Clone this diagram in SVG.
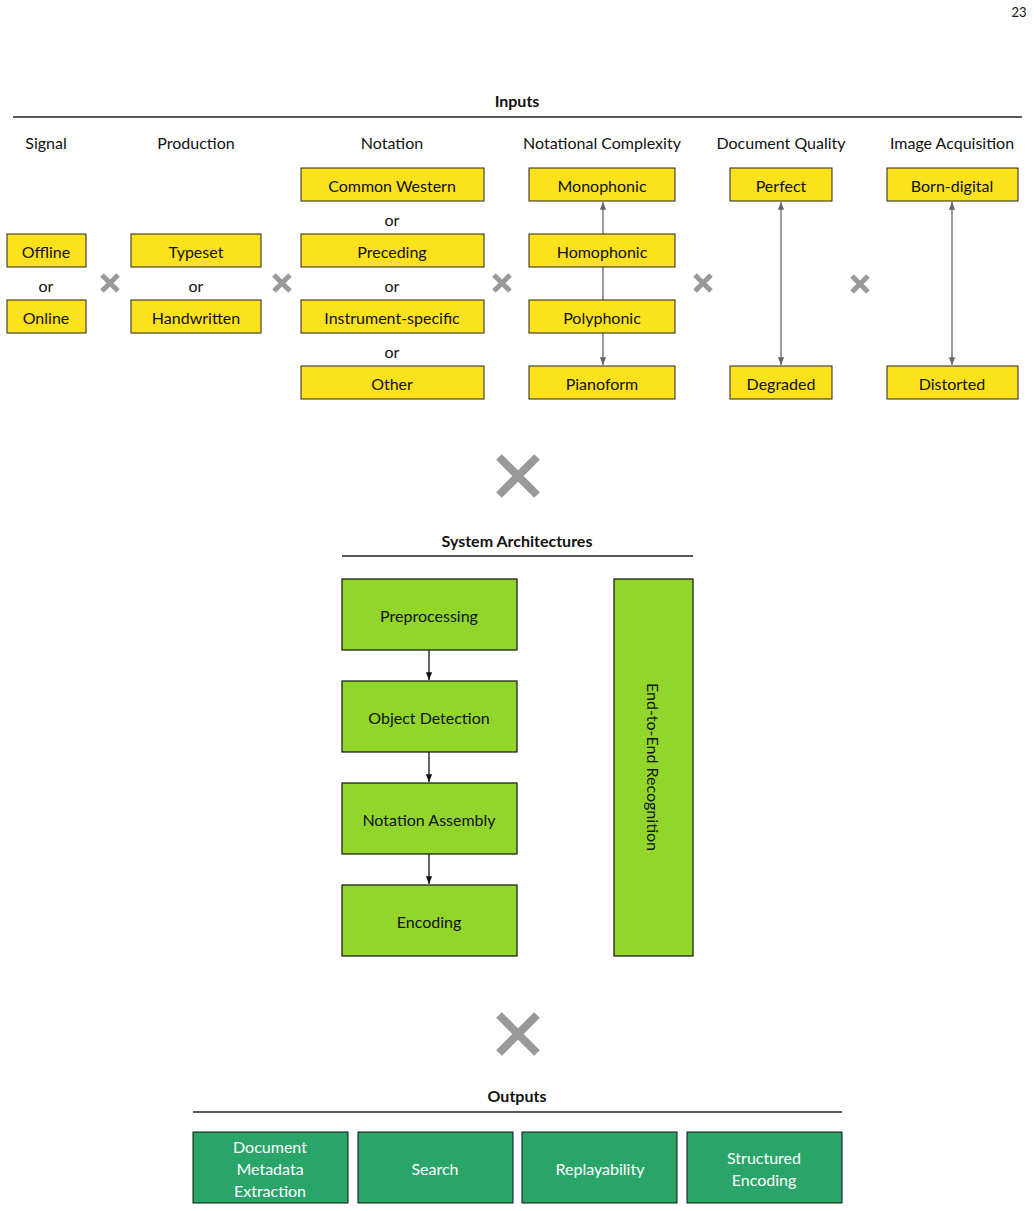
<svg xmlns="http://www.w3.org/2000/svg" width="1034" height="1211" viewBox="0 0 1034 1211">
<defs>
<style>
text{font-family:Lato,"Open Sans",sans-serif;font-size:16px;fill:#111;text-anchor:middle;dominant-baseline:central}
.y{fill:#FCE21D;stroke:#222;stroke-width:1}
.g{fill:#92D62C;stroke:#111;stroke-width:1.2}
.d{fill:#2AA56A;stroke:#111;stroke-width:1}
.w{fill:#fff}
.b{font-weight:bold}
.hl{stroke:#222;stroke-width:1.5}
.c{stroke:#666;stroke-width:1.3;fill:none}
.k{stroke:#111;stroke-width:1.3;fill:none}
.x{stroke:#999;stroke-linecap:butt}
</style>
<marker id="ag" viewBox="0 0 10 10" refX="10" refY="5" markerWidth="6" markerHeight="6" orient="auto-start-reverse"><path d="M0,1L10,5L0,9z" fill="#666"/></marker>
<marker id="ak" viewBox="0 0 10 10" refX="10" refY="5" markerWidth="6" markerHeight="6" orient="auto"><path d="M0,1L10,5L0,9z" fill="#111"/></marker>
</defs>
<rect width="1034" height="1211" fill="#fff"/>
<text x="1019" y="12" style="font-size:13px">23</text>
<text x="517" y="100" class="b">Inputs</text>
<line x1="13" y1="117" x2="1022" y2="117" class="hl"/>
<text x="46" y="142">Signal</text>
<text x="196" y="142">Production</text>
<text x="392" y="142">Notation</text>
<text x="602" y="142">Notational Complexity</text>
<text x="781" y="142">Document Quality</text>
<text x="952" y="142">Image Acquisition</text>
<g id="connectors">
<line x1="603" y1="234" x2="603" y2="202" class="c" marker-end="url(#ag)"/>
<line x1="603" y1="267" x2="603" y2="300" class="c"/>
<line x1="603" y1="333" x2="603" y2="365" class="c" marker-end="url(#ag)"/>
<line x1="781" y1="202" x2="781" y2="365" class="c" marker-start="url(#ag)" marker-end="url(#ag)"/>
<line x1="952" y1="202" x2="952" y2="365" class="c" marker-start="url(#ag)" marker-end="url(#ag)"/>
<line x1="429" y1="650" x2="429" y2="680" class="k" marker-end="url(#ak)"/>
<line x1="429" y1="752" x2="429" y2="782" class="k" marker-end="url(#ak)"/>
<line x1="429" y1="854" x2="429" y2="884" class="k" marker-end="url(#ak)"/>
</g>
<g id="offline"><rect x="7" y="234" width="79" height="33" class="y"/><text x="46" y="251">Offline</text></g>
<text x="46" y="285">or</text>
<g id="online"><rect x="7" y="300" width="79" height="33" class="y"/><text x="46" y="317">Online</text></g>
<g id="typeset"><rect x="131" y="234" width="130" height="33" class="y"/><text x="196" y="251">Typeset</text></g>
<text x="196" y="285">or</text>
<g id="handwritten"><rect x="131" y="300" width="130" height="33" class="y"/><text x="196" y="317">Handwritten</text></g>
<g id="cwn"><rect x="301" y="168" width="183" height="33" class="y"/><text x="392" y="185">Common Western</text></g>
<text x="392" y="219">or</text>
<g id="preceding"><rect x="301" y="234" width="183" height="33" class="y"/><text x="392" y="251">Preceding</text></g>
<text x="392" y="285">or</text>
<g id="instrument"><rect x="301" y="300" width="183" height="33" class="y"/><text x="392" y="317">Instrument-specific</text></g>
<text x="392" y="351">or</text>
<g id="other"><rect x="301" y="366" width="183" height="33" class="y"/><text x="392" y="383">Other</text></g>
<g id="mono"><rect x="529" y="168" width="146" height="33" class="y"/><text x="602" y="185">Monophonic</text></g>
<g id="homo"><rect x="529" y="234" width="146" height="33" class="y"/><text x="602" y="251">Homophonic</text></g>
<g id="poly"><rect x="529" y="300" width="146" height="33" class="y"/><text x="602" y="317">Polyphonic</text></g>
<g id="piano"><rect x="529" y="366" width="146" height="33" class="y"/><text x="602" y="383">Pianoform</text></g>
<g id="perfect"><rect x="730" y="168" width="102" height="33" class="y"/><text x="781" y="185">Perfect</text></g>
<g id="degraded"><rect x="730" y="366" width="102" height="33" class="y"/><text x="781" y="383">Degraded</text></g>
<g id="born"><rect x="887" y="168" width="131" height="33" class="y"/><text x="952" y="185">Born-digital</text></g>
<g id="distorted"><rect x="887" y="366" width="131" height="33" class="y"/><text x="952" y="383">Distorted</text></g>
<g class="x" stroke-width="5">
<path d="M102,275l16,16M118,275l-16,16"/>
<path d="M274,275l16,16M290,275l-16,16"/>
<path d="M494,275l16,16M510,275l-16,16"/>
<path d="M695,275l16,16M711,275l-16,16"/>
<path d="M852,276l16,16M868,276l-16,16"/>
</g>
<g class="x" stroke-width="8">
<path d="M499,457l38,38M537,457l-38,38"/>
<path d="M499,1015l38,38M537,1015l-38,38"/>
</g>
<text x="517" y="540" class="b">System Architectures</text>
<line x1="342" y1="556" x2="693" y2="556" class="hl"/>
<g id="pre"><rect x="342" y="579" width="175" height="71" class="g"/><text x="429" y="615">Preprocessing</text></g>
<g id="od"><rect x="342" y="681" width="175" height="71" class="g"/><text x="429" y="717">Object Detection</text></g>
<g id="na"><rect x="342" y="783" width="175" height="71" class="g"/><text x="429" y="819">Notation Assembly</text></g>
<g id="enc"><rect x="342" y="885" width="175" height="71" class="g"/><text x="429" y="921">Encoding</text></g>
<g id="e2e"><rect x="614" y="579" width="79" height="377" class="g"/><text x="653" y="767" transform="rotate(90 653 767)">End-to-End Recognition</text></g>
<text x="517" y="1095" class="b">Outputs</text>
<line x1="193" y1="1112" x2="842" y2="1112" class="hl"/>
<g id="dme"><rect x="193" y="1132" width="155" height="71" class="d"/><text x="270" y="1146" class="w">Document</text><text x="270" y="1168" class="w">Metadata</text><text x="270" y="1190" class="w">Extraction</text></g>
<g id="search"><rect x="358" y="1132" width="155" height="71" class="d"/><text x="435" y="1168" class="w">Search</text></g>
<g id="replay"><rect x="522" y="1132" width="155" height="71" class="d"/><text x="600" y="1168" class="w">Replayability</text></g>
<g id="se"><rect x="687" y="1132" width="155" height="71" class="d"/><text x="764" y="1157" class="w">Structured</text><text x="764" y="1179" class="w">Encoding</text></g>
</svg>
